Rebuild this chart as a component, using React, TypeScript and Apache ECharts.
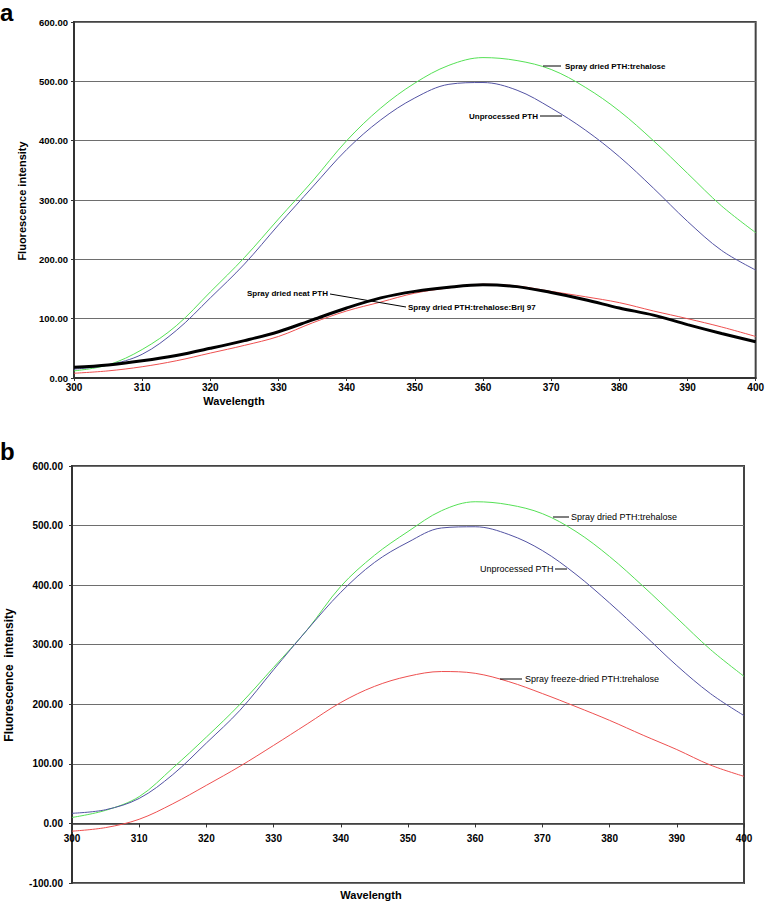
import React, { useEffect, useRef } from "react";
import * as echarts from "echarts";

const wavelengths = [300, 305, 310, 315, 320, 325, 330, 335, 340, 345, 350, 355, 360, 365, 370, 375, 380, 385, 390, 395, 400];

// Panel a
const greenA = [12, 22, 48, 88, 145, 203, 268, 332, 400, 455, 497, 527, 540, 535, 520, 490, 450, 400, 345, 290, 245];
const blueA = [15, 22, 40, 80, 135, 192, 258, 322, 385, 435, 472, 495, 498, 485, 455, 418, 373, 320, 264, 215, 182];
const blackA = [18, 22, 29, 38, 50, 63, 78, 98, 118, 135, 146, 153, 157, 154, 144, 132, 118, 106, 90, 75, 61];
const redA = [8, 12, 19, 29, 42, 55, 70, 93, 113, 128, 143, 152, 158, 155, 146, 137, 127, 113, 100, 86, 70];

// Panel b
const greenB = [10, 22, 45, 93, 145, 200, 262, 325, 398, 450, 490, 525, 540, 535, 520, 490, 448, 398, 345, 292, 247];
const blueB = [17, 23, 42, 82, 135, 190, 258, 325, 388, 438, 472, 496, 498, 485, 458, 418, 370, 318, 265, 218, 181];
const redB = [-13, -7, 7, 33, 64, 96, 131, 167, 203, 230, 247, 255, 252, 238, 218, 196, 173, 148, 124, 98, 79];

const xTicks = { min: 300, max: 400, interval: 10 };
const yTicksA = { min: 0, max: 600, interval: 100 };
const yTicksB = { min: -100, max: 600, interval: 100 };

const FONT = 'Arial, "Liberation Sans", sans-serif';
const GREEN = "#55e055";
const BLUE = "#5353a3";
const RED = "#ee5050";

const GRID_B_HEIGHT = 417;

const pairs = (ys: number[]) => wavelengths.map((w, i) => [w, ys[i]]);

function lineSeries(name: string, ys: number[], color: string, idx: number, width = 1) {
  return {
    name,
    type: "line",
    xAxisIndex: idx,
    yAxisIndex: idx,
    data: pairs(ys),
    showSymbol: false,
    smooth: 0.35,
    lineStyle: { color, width },
    itemStyle: { color },
    z: width > 1 ? 4 : 3,
  };
}

export default function App() {
  const ref = useRef<HTMLDivElement>(null);
  useEffect(() => {
    if (!ref.current) return;
    const chart = echarts.init(ref.current, null, { renderer: "svg" });
    const gridLine = { show: true, lineStyle: { color: "#6e6e6e", width: 1 } };
    const txt = (x: number, y: number, text: string, font: string, align = "left", rotation = 0) => ({
      type: "text",
      x,
      y,
      rotation,
      style: { text, font, fill: "#000", align, verticalAlign: "middle" },
      z: 10,
    });
    const ln = (x1: number, y1: number, x2: number, y2: number) => ({
      type: "line",
      shape: { x1, y1, x2, y2 },
      style: { stroke: "#000", lineWidth: 1 },
      z: 10,
    });
    // x axis of panel b sits at y = 0: offset derived from the y scale
    const zeroOffsetB = -((0 - yTicksB.min) / (yTicksB.max - yTicksB.min)) * GRID_B_HEIGHT;
    const option: any = {
      animation: false,
      backgroundColor: "#fff",
      grid: [
        { left: 74, top: 22, width: 683, height: 356, show: true, borderColor: "#444", borderWidth: 2, backgroundColor: "transparent" },
        { left: 72, top: 466, width: 672, height: GRID_B_HEIGHT, show: true, borderColor: "#444", borderWidth: 2, backgroundColor: "transparent" },
      ],
      xAxis: [
        {
          type: "value", gridIndex: 0, ...xTicks,
          axisLine: { show: true, lineStyle: { color: "#333", width: 2 } },
          axisTick: { show: true, length: 3, lineStyle: { color: "#333" } },
          splitLine: { show: false },
          axisLabel: { margin: 4, fontFamily: FONT, fontWeight: "bold", fontSize: 10, color: "#000", formatter: (v: number) => String(v) },
        },
        {
          type: "value", gridIndex: 1, ...xTicks,
          position: "bottom",
          offset: zeroOffsetB,
          axisLine: { show: true, onZero: false, lineStyle: { color: "#333", width: 1.5 } },
          axisTick: { show: true, length: 4, lineStyle: { color: "#333" } },
          splitLine: { show: false },
          axisLabel: { margin: 10, fontFamily: FONT, fontWeight: "bold", fontSize: 10, color: "#000", formatter: (v: number) => String(v) },
        },
      ],
      yAxis: [
        {
          type: "value", gridIndex: 0, ...yTicksA,
          axisLine: { show: true, lineStyle: { color: "#333", width: 2 } },
          axisTick: { show: true, length: 3, lineStyle: { color: "#333" } },
          splitLine: gridLine,
          axisLabel: { margin: 6, fontFamily: FONT, fontWeight: "bold", fontSize: 9.5, color: "#000", formatter: (v: number) => v.toFixed(2) },
        },
        {
          type: "value", gridIndex: 1, ...yTicksB,
          axisLine: { show: true, lineStyle: { color: "#333", width: 2 } },
          axisTick: { show: true, length: 3, lineStyle: { color: "#333" } },
          splitLine: gridLine,
          axisLabel: { margin: 9, fontFamily: FONT, fontWeight: "bold", fontSize: 10, color: "#000", formatter: (v: number) => v.toFixed(2) },
        },
      ],
      series: [
        lineSeries("Spray dried PTH:trehalose", greenA, GREEN, 0),
        lineSeries("Unprocessed PTH", blueA, BLUE, 0),
        lineSeries("Spray dried PTH:trehalose:Brij 97", redA, RED, 0),
        lineSeries("Spray dried neat PTH", blackA, "#000", 0, 3),
        lineSeries("Spray dried PTH:trehalose", greenB, GREEN, 1),
        lineSeries("Unprocessed PTH", blueB, BLUE, 1),
        lineSeries("Spray freeze-dried PTH:trehalose", redB, RED, 1),
      ],
      graphic: [
        txt(0, 12, "a", `bold 24px ${FONT}`),
        txt(0, 451, "b", `bold 24px ${FONT}`),
        txt(22, 201, "Fluorescence intensity", `bold 11px ${FONT}`, "center", Math.PI / 2),
        txt(9, 675, "Fluorescence  intensity", `bold 12px ${FONT}`, "center", Math.PI / 2),
        txt(234, 401, "Wavelength", `bold 11px ${FONT}`, "center"),
        txt(371, 895, "Wavelength", `bold 11px ${FONT}`, "center"),
        // panel a annotations
        ln(543, 66, 561, 66),
        txt(565, 66, "Spray dried PTH:trehalose", `bold 8px ${FONT}`),
        txt(469, 116, "Unprocessed PTH", `bold 8px ${FONT}`),
        ln(540, 116, 562, 116),
        txt(247, 293, "Spray dried neat PTH", `bold 8px ${FONT}`),
        ln(330, 294, 406, 307),
        txt(408, 307, "Spray dried PTH:trehalose:Brij 97", `bold 8px ${FONT}`),
        // panel b annotations
        ln(553, 517, 569, 517),
        txt(571, 517, "Spray dried PTH:trehalose", `9px ${FONT}`),
        txt(480, 569, "Unprocessed PTH", `9px ${FONT}`),
        ln(555, 569, 567, 569),
        ln(500, 679, 522, 679),
        txt(525, 679, "Spray freeze-dried PTH:trehalose", `9px ${FONT}`),
      ],
    };
    chart.setOption(option);
    return () => chart.dispose();
  }, []);
  return <div ref={ref} style={{ position: "absolute", left: 0, top: 0, width: 767, height: 903 }} />;
}
